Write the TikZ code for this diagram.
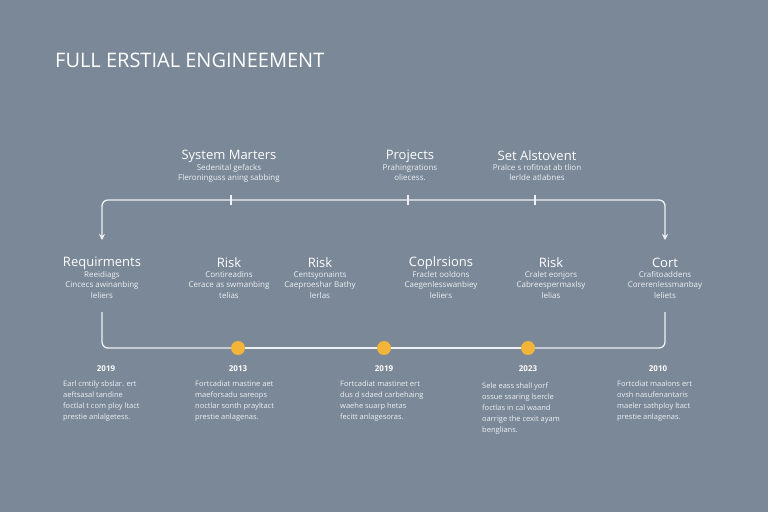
\documentclass[tikz,border=0pt]{standalone}
\usepackage{fontspec}
\setmainfont{Open Sans}
\usetikzlibrary{arrows.meta}
\definecolor{bg}{HTML}{7A8898}
\definecolor{ln}{HTML}{EEF1F4}
\definecolor{dot}{HTML}{F2B53A}
\begin{document}
\begin{tikzpicture}[x=1pt,y=-1pt,
  hd/.style={text=white,font=\fontsize{13}{14}\selectfont,inner sep=0},
  sb/.style={text=ln,font=\fontsize{8}{10.5}\selectfont,align=center,inner sep=0,anchor=north},
  yr/.style={text=white,font=\bfseries\fontsize{8}{9}\selectfont,inner sep=0},
  ds/.style={text=ln,font=\fontsize{7.5}{11}\selectfont,align=left,inner sep=0,anchor=north west},
  wire/.style={draw=ln,line width=1.3pt,rounded corners=6pt},
  arr/.style={-{Stealth[length=6pt,width=6pt]}}]
\fill[bg] (0,0) rectangle (768,512);
\useasboundingbox (0,0) rectangle (768,512);
\node[text=white,font=\fontsize{20}{22}\selectfont,anchor=west,inner sep=0] (title) at (55,60) {FULL ERSTIAL ENGINEEMENT};
% top labels
\node[hd] (t1) at (229,156) {System Marters};
\node[sb] (t1s) at (229,164) {Sedenital gefacks\\Fleroninguss aning sabbing};
\node[hd] (t2) at (410,156) {Projects};
\node[sb] (t2s) at (410,164) {Prahingrations\\oliecess.};
\node[hd] (t3) at (537,156) {Set Alstovent};
\node[sb] (t3s) at (537,164) {Pralce s rofitnat ab tlion\\lerlde atlabnes};
% top bracket
\coordinate (a) at (102,240);
\coordinate (b) at (665,240);
\coordinate (k1) at (231,200);
\coordinate (k2) at (408,200);
\coordinate (k3) at (535,200);
\draw[wire,arr] (k1) -- (102,200) -- (a);
\draw[wire,arr] (k1) -- (665,200) -- (b);
\foreach \k in {k1,k2,k3} \draw[ln,line width=1.2pt] ([yshift=-5pt]\k) -- ([yshift=5pt]\k);
% middle labels
\foreach \n/\x/\h/\s in {m1/102/Requirments/{Reeidiags\\Cincecs awinanbing\\leliers},
  m2/229/Risk/{Contireadins\\Cerace as swmanbing\\telias},
  m3/320/Risk/{Centsyonaints\\Caeproeshar Bathy\\lerlas},
  m4/441/Coplrsions/{Fraclet ooldons\\Caegenlesswanbiey\\leliers},
  m5/551/Risk/{Cralet eonjors\\Cabreespermaxlsy\\lelias},
  m6/665/Cort/{Crafitoaddens\\Corerenlessmanbay\\leliets}}{
  \node[hd] (\n) at (\x,263) {\h};
  \node[sb] (\n s) at (\x,271) {\s};
}
% bottom line
\coordinate (l0) at (102,312);
\coordinate (r0) at (665,312);
\node[circle,fill=dot,minimum size=14pt,inner sep=0] (d1) at (238,348) {};
\node[circle,fill=dot,minimum size=14pt,inner sep=0] (d2) at (384,348) {};
\node[circle,fill=dot,minimum size=14pt,inner sep=0] (d3) at (528,348) {};
\draw[wire] (l0) -- (102,348) -- (d1);
\draw[ln,line width=1.3pt] (d1) -- (d2) (d2) -- (d3);
\draw[wire] (d3) -- (665,348) -- (r0);
% years
\node[yr] (y1) at (106,369) {2019};
\node[yr] (y2) at (238,369) {2013};
\node[yr] (y3) at (384,369) {2019};
\node[yr] (y4) at (528,369) {2023};
\node[yr] (y5) at (658,369) {2010};
\node[ds] (e1) at (63,381) {Earl cmtily sbslar. ert\\aeftsasal tandine\\foctlal t com ploy ltact\\prestie anlalgetess.};
\node[ds] (e2) at (195,381) {Fortcadiat mastine aet\\maeforsadu sareops\\noctlar sonth prayltact\\prestie anlagenas.};
\node[ds] (e3) at (340,381) {Fortcadiat mastinet ert\\dus d sdaed carbehaing\\waehe suarp hetas\\fecitt anlagesoras.};
\node[ds] (e4) at (482,383) {Sele eass shall yorf\\ossue ssaring lsercle\\foctlas in cal waand\\oarrige the cexit ayam\\benglians.};
\node[ds] (e5) at (617,381) {Fortcdiat maalons ert\\ovsh nasufenantaris\\maeler sathploy ltact\\prestie anlagenas.};
\end{tikzpicture}
\end{document}
